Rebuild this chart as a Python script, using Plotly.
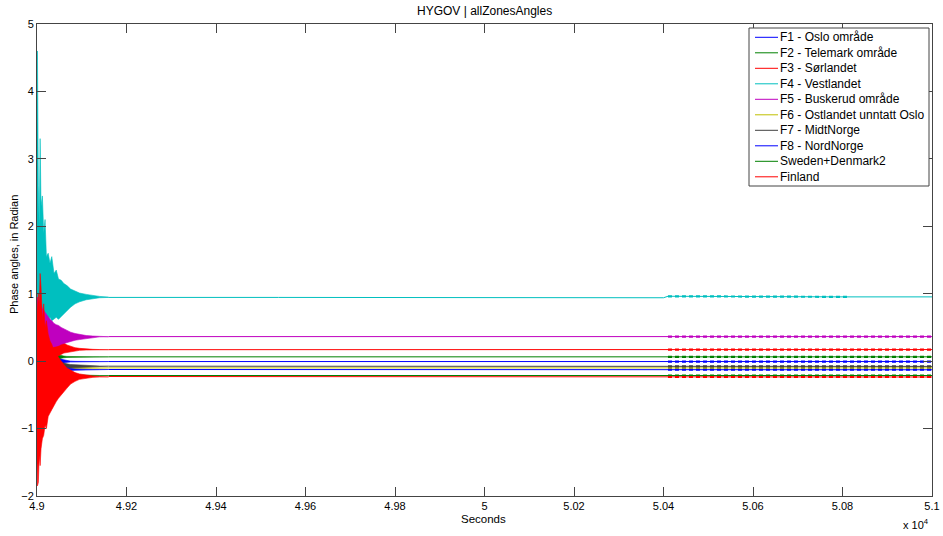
import plotly.graph_objects as go

# ---- data -------------------------------------------------------------
series_names = [
    "F1 - Oslo område",
    "F2 - Telemark område",
    "F3 - Sørlandet",
    "F4 - Vestlandet",
    "F5 - Buskerud område",
    "F6 - Ostlandet unntatt Oslo",
    "F7 - MidtNorge",
    "F8 - NordNorge",
    "Sweden+Denmark2",
    "Finland",
]

# MATLAB default colour order, cycling after seven series
series_colors = ["#0000FF", "#008000", "#FF0000", "#00BFBF", "#BF00BF",
                 "#BFBF00", "#404040", "#0000FF", "#008000", "#FF0000"]

# time stamps (s) of the oscillation envelope right after the disturbance
t_transient = [49000, 49001, 49003, 49005, 49007, 49009, 49012, 49015, 49018,
               49021, 49025, 49029, 49033, 49038, 49043, 49048, 49054, 49060,
               49067, 49075, 49085, 49095, 49110, 49125, 49140, 49160]

# upper / lower envelope of each zone angle (rad)
f1_hi = [0.6, 0.8, 0.7, 0.75, 0.9, 0.6, 0.5, 0.45, 0.35, 0.3, 0.25, 0.2, 0.15,
         0.1, 0.07, 0.05, 0.03, 0.02, 0.01, 0.0, -0.003, -0.005, -0.006,
         -0.006, -0.006, -0.006]
f1_lo = [-0.5, -0.6, -0.5, -0.55, -0.45, -0.4, -0.35, -0.3, -0.25, -0.2, -0.15,
         -0.12, -0.1, -0.08, -0.06, -0.045, -0.035, -0.025, -0.018, -0.013,
         -0.01, -0.008, -0.007, -0.006, -0.006, -0.006]

f2_hi = [0.5, 0.6, 0.45, 0.55, 0.4, 0.45, 0.35, 0.3, 0.28, 0.25, 0.2, 0.18,
         0.15, 0.12, 0.1, 0.09, 0.08, 0.075, 0.07, 0.068, 0.066, 0.065, 0.064,
         0.064, 0.064, 0.064]
f2_lo = [-0.4, -0.5, -0.35, -0.4, -0.3, -0.3, -0.25, -0.2, -0.15, -0.12, -0.08,
         -0.05, -0.02, 0.0, 0.02, 0.035, 0.045, 0.05, 0.055, 0.058, 0.06, 0.062,
         0.063, 0.064, 0.064, 0.064]

f3_hi = [1.0, 0.9, 1.05, 0.95, 1.1, 1.0, 0.9, 0.8, 0.7, 0.65, 0.55, 0.5, 0.45,
         0.4, 0.36, 0.33, 0.3, 0.27, 0.24, 0.22, 0.2, 0.19, 0.18, 0.175, 0.172,
         0.17]
f3_lo = [-0.6, -0.5, -0.55, -0.45, -0.4, -0.35, -0.3, -0.25, -0.2, -0.15, -0.1,
         -0.05, 0.0, 0.03, 0.06, 0.08, 0.1, 0.12, 0.13, 0.14, 0.15, 0.16, 0.165,
         0.168, 0.17, 0.17]

f4_hi = [4.47, 4.6, 2.6, 2.0, 3.3, 2.3, 2.45, 1.9, 2.1, 1.55, 1.6, 1.45, 1.55,
         1.3, 1.35, 1.22, 1.2, 1.15, 1.12, 1.07, 1.04, 1.01, 0.99, 0.97, 0.96,
         0.95]
f4_lo = [0.7, 0.9, 0.7, 0.75, 0.65, 0.7, 0.6, 0.7, 0.62, 0.68, 0.6, 0.65, 0.6,
         0.62, 0.65, 0.62, 0.66, 0.7, 0.75, 0.8, 0.85, 0.88, 0.91, 0.93, 0.94,
         0.945]

f5_hi = [0.9, 0.95, 0.85, 0.9, 0.8, 0.85, 0.78, 0.75, 0.72, 0.7, 0.66, 0.62,
         0.6, 0.56, 0.54, 0.53, 0.5, 0.48, 0.45, 0.43, 0.41, 0.395, 0.38, 0.372,
         0.367, 0.365]
f5_lo = [0.1, 0.2, 0.05, 0.15, 0.1, 0.15, 0.1, 0.2, 0.15, 0.2, 0.18, 0.2, 0.2,
         0.22, 0.22, 0.23, 0.25, 0.26, 0.28, 0.29, 0.31, 0.32, 0.34, 0.35, 0.36,
         0.362]

f6_hi = [0.3, 0.4, 0.3, 0.35, 0.25, 0.25, 0.2, 0.15, 0.1, 0.08, 0.05, 0.02, 0.0,
         -0.02, -0.03, -0.045, -0.055, -0.065, -0.075, -0.08, -0.085, -0.09,
         -0.095, -0.098, -0.1, -0.1]
f6_lo = [-0.5, -0.55, -0.45, -0.5, -0.4, -0.38, -0.35, -0.3, -0.27, -0.24,
         -0.21, -0.19, -0.17, -0.16, -0.15, -0.14, -0.135, -0.13, -0.125, -0.12,
         -0.115, -0.11, -0.105, -0.102, -0.1, -0.1]

f7_hi = [0.4, 0.5, 0.4, 0.45, 0.35, 0.3, 0.25, 0.2, 0.15, 0.12, 0.08, 0.05,
         0.03, 0.01, 0.0, -0.01, -0.02, -0.03, -0.04, -0.05, -0.055, -0.06,
         -0.065, -0.07, -0.072, -0.075]
f7_lo = [-0.5, -0.6, -0.5, -0.5, -0.4, -0.4, -0.35, -0.3, -0.25, -0.22, -0.2,
         -0.18, -0.16, -0.15, -0.14, -0.13, -0.12, -0.115, -0.11, -0.1, -0.095,
         -0.09, -0.085, -0.08, -0.078, -0.075]

f8_hi = [0.4, 0.5, 0.45, 0.4, 0.35, 0.3, 0.25, 0.2, 0.15, 0.1, 0.05, 0.02, 0.0,
         -0.03, -0.05, -0.07, -0.08, -0.09, -0.1, -0.11, -0.115, -0.12, -0.122,
         -0.124, -0.124, -0.124]
f8_lo = [-0.6, -0.7, -0.6, -0.55, -0.5, -0.45, -0.4, -0.35, -0.3, -0.28, -0.25,
         -0.22, -0.2, -0.18, -0.17, -0.16, -0.155, -0.15, -0.145, -0.14, -0.135,
         -0.13, -0.127, -0.125, -0.124, -0.124]

se_hi = [0.3, 0.4, 0.25, 0.3, 0.2, 0.2, 0.15, 0.1, 0.05, 0.0, -0.03, -0.06,
         -0.08, -0.1, -0.12, -0.14, -0.16, -0.17, -0.18, -0.19, -0.2, -0.205,
         -0.21, -0.212, -0.213, -0.213]
se_lo = [-0.8, -0.9, -0.75, -0.8, -0.65, -0.7, -0.6, -0.55, -0.5, -0.45, -0.42,
         -0.38, -0.35, -0.32, -0.3, -0.28, -0.26, -0.25, -0.24, -0.23, -0.22,
         -0.218, -0.215, -0.214, -0.213, -0.213]

fi_hi = [0.95, 0.7, 1.0, 0.8, 1.3, 1.1, 0.6, 0.85, 0.5, 0.6, 0.4, 0.3, 0.25,
         0.15, 0.1, 0.05, 0.0, -0.05, -0.1, -0.13, -0.17, -0.19, -0.21, -0.22,
         -0.228, -0.233]
fi_lo = [-1.5, -1.85, -1.8, -1.4, -1.55, -1.3, -1.15, -1.1, -0.95, -1.0, -0.82,
         -0.77, -0.72, -0.65, -0.6, -0.55, -0.5, -0.45, -0.4, -0.34, -0.3,
         -0.27, -0.25, -0.24, -0.235, -0.233]

# settled operating point after the transient
t_steady = [49160, 49480, 49505, 49540, 50400, 50410, 50810, 51000]
f1_level = [-0.006, -0.006, -0.006, -0.006, -0.006, -0.006, -0.006, -0.006]
f2_level = [0.064, 0.064, 0.064, 0.064, 0.064, 0.064, 0.064, 0.064]
f3_level = [0.17, 0.17, 0.17, 0.17, 0.17, 0.172, 0.172, 0.172]
f4_level = [0.945, 0.945, 0.956, 0.945, 0.94, 0.962, 0.953, 0.953]
f5_level = [0.364, 0.364, 0.364, 0.364, 0.364, 0.364, 0.364, 0.364]
f6_level = [-0.1, -0.1, -0.1, -0.1, -0.1, -0.1, -0.1, -0.1]
f7_level = [-0.075, -0.075, -0.075, -0.075, -0.075, -0.078, -0.078, -0.078]
f8_level = [-0.124, -0.124, -0.124, -0.124, -0.124, -0.128, -0.128, -0.128]
se_level = [-0.213, -0.213, -0.213, -0.213, -0.213, -0.213, -0.213, -0.213]
fi_level = [-0.228, -0.228, -0.228, -0.228, -0.228, -0.235, -0.235, -0.235]

# small sustained ripple after the second event (start / end times, s)
ripple_start = 50405
ripple_end = [51000, 51000, 51000, 50810, 51000, 51000, 51000, 51000, 51000, 51000]

x_tickvals = [49000, 49200, 49400, 49600, 49800, 50000, 50200, 50400, 50600,
              50800, 51000]
x_ticktext = ["4.9", "4.92", "4.94", "4.96", "4.98", "5", "5.02", "5.04",
              "5.06", "5.08", "5.1"]
y_tickvals = [-2, -1, 0, 1, 2, 3, 4, 5]

envelopes_hi = [f1_hi, f2_hi, f3_hi, f4_hi, f5_hi, f6_hi, f7_hi, f8_hi, se_hi, fi_hi]
envelopes_lo = [f1_lo, f2_lo, f3_lo, f4_lo, f5_lo, f6_lo, f7_lo, f8_lo, se_lo, fi_lo]
levels = [f1_level, f2_level, f3_level, f4_level, f5_level, f6_level, f7_level,
          f8_level, se_level, fi_level]

# ---- figure -----------------------------------------------------------
W, H = 943, 536
ML, MR, MT, MB = 37, 11, 24, 40
PW, PH = W - ML - MR, H - MT - MB
FONT = "Liberation Sans, Arial, Helvetica, sans-serif"


def px_x(px):
    return (px - ML) / PW


def px_y(py):
    return (H - MB - py) / PH


fig = go.Figure()

for name, color, hi, lo, lev, r_end in zip(series_names, series_colors,
                                            envelopes_hi, envelopes_lo,
                                            levels, ripple_end):
    # dense oscillation drawn as the band between its envelopes
    fig.add_trace(go.Scatter(
        x=t_transient + t_transient[::-1],
        y=hi + lo[::-1],
        mode="lines", fill="toself", fillcolor=color,
        line=dict(color=color, width=0.6),
        name=name, showlegend=False, hoverinfo="skip"))
    # settled angle
    fig.add_trace(go.Scatter(
        x=t_steady, y=lev, mode="lines",
        line=dict(color=color, width=1),
        name=name, showlegend=False))
    # ripple segment
    rx = [t for t in t_steady if ripple_start <= t <= r_end]
    ry = [v for t, v in zip(t_steady, lev) if ripple_start <= t <= r_end]
    if rx and rx[-1] < r_end:
        rx.append(r_end)
        ry.append(ry[-1])
    fig.add_trace(go.Scatter(
        x=rx, y=ry, mode="lines",
        line=dict(color=color, width=2.2, dash="4px,3px"),
        name=name, showlegend=False, hoverinfo="skip"))

axis_common = dict(
    showline=True, linecolor="#444444", linewidth=1, mirror="allticks",
    ticks="inside", ticklen=9, tickcolor="#444444", tickwidth=1,
    showgrid=False, zeroline=False, automargin=False,
    tickfont=dict(family=FONT, size=11, color="#000000"),
)

fig.update_layout(
    width=W, height=H, autosize=False,
    margin=dict(l=ML, r=MR, t=MT, b=MB, pad=0, autoexpand=False),
    paper_bgcolor="white", plot_bgcolor="white",
    showlegend=False,
    xaxis=dict(range=[49000, 51000], tickvals=x_tickvals, ticktext=x_ticktext,
               **axis_common),
    yaxis=dict(range=[-2, 5], tickvals=y_tickvals, **axis_common),
)

annotations = [
    dict(text="HYGOV | allZonesAngles", x=0.5, y=px_y(11), xref="paper",
         yref="paper", xanchor="center", yanchor="middle", showarrow=False,
         font=dict(family=FONT, size=12, color="#000000")),
    dict(text="Seconds", x=px_x(483), y=px_y(519), xref="paper", yref="paper",
         xanchor="center", yanchor="middle", showarrow=False,
         font=dict(family=FONT, size=11.5, color="#000000")),
    dict(text="Phase angles, in Radian", x=px_x(14), y=px_y(255),
         xref="paper", yref="paper", xanchor="center", yanchor="middle",
         textangle=-90, showarrow=False,
         font=dict(family=FONT, size=11, color="#000000")),
    dict(text="x 10<sup>4</sup>", x=px_x(916), y=px_y(524), xref="paper",
         yref="paper", xanchor="center", yanchor="middle", showarrow=False,
         font=dict(family=FONT, size=11, color="#000000")),
]

# legend box in the upper right corner
shapes = [dict(type="rect", xref="paper", yref="paper",
               x0=px_x(749), x1=px_x(929), y0=px_y(186), y1=px_y(28),
               line=dict(color="#444444", width=1), fillcolor="white",
               layer="above")]
row0, row_step = 37.3, 15.5
for i, (name, color) in enumerate(zip(series_names, series_colors)):
    yc = px_y(row0 + i * row_step)
    shapes.append(dict(type="line", xref="paper", yref="paper",
                       x0=px_x(755), x1=px_x(778), y0=yc, y1=yc,
                       line=dict(color=color, width=1), layer="above"))
    annotations.append(dict(text=name, x=px_x(778), y=yc, xref="paper",
                            yref="paper", xanchor="left", yanchor="middle",
                            showarrow=False,
                            font=dict(family=FONT, size=12, color="#000000")))

fig.update_layout(shapes=shapes, annotations=annotations)

fig.write_html("out.html", config={"responsive": False})
